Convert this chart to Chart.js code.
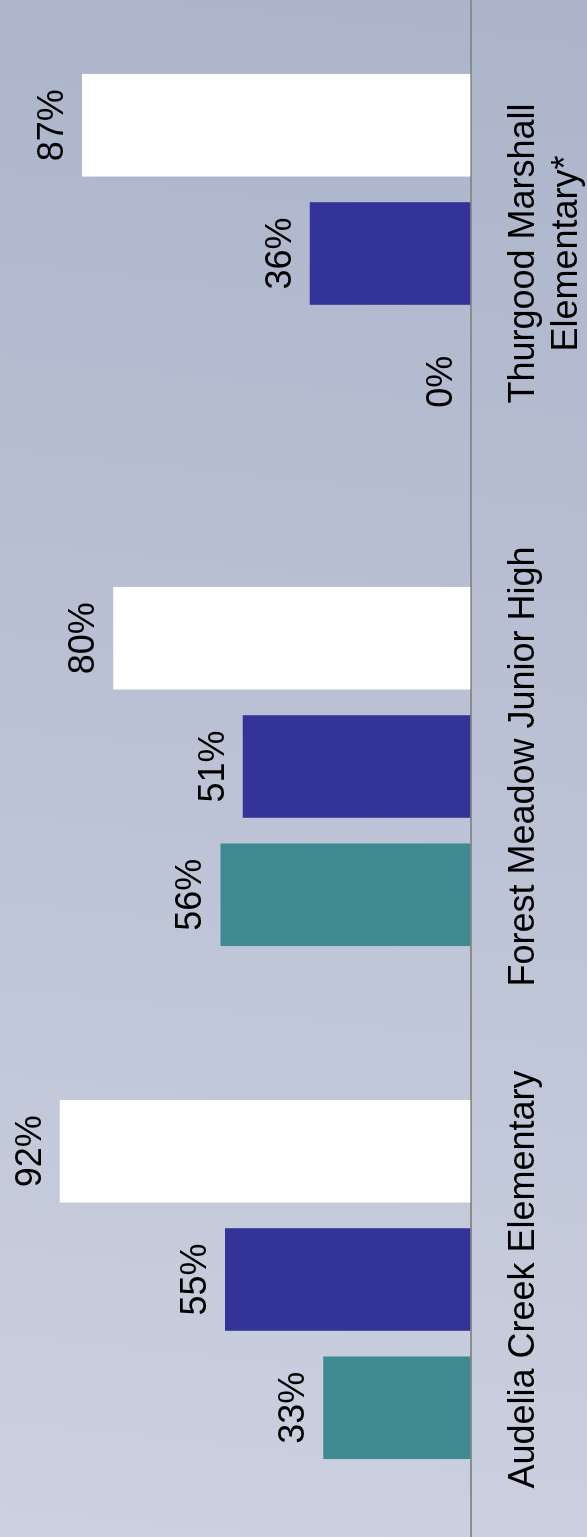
<!DOCTYPE html>
<html>
<head>
<meta charset="utf-8">
<script src="https://cdn.jsdelivr.net/npm/chart.js@4"></script>
<style>
  html, body { margin: 0; padding: 0; }
  body { width: 587px; height: 1537px; overflow: hidden; }
  #wrap {
    position: absolute; left: 0; top: 0; width: 587px; height: 1537px; overflow: hidden;
    background: linear-gradient(6deg, #cbd1df 0%, #bbc2d5 50%, #acb4ca 100%);
  }
  #rot {
    position: absolute; left: 0; top: 0; width: 1540px; height: 587px;
    transform-origin: 0 0;
    transform: translateY(1537px) rotate(-90deg);
  }
</style>
</head>
<body>
<div id="wrap">
  <div id="rot"><canvas id="c" width="1540" height="587"></canvas></div>
</div>
<script>
const categories = ["Audelia Creek Elementary", "Forest Meadow Junior High", ["Thurgood Marshall", "Elementary*"]];
const seriesNames = ["Series 1", "Series 2", "Series 3"];
const series1 = [33, 56, 0];
const series2 = [55, 51, 36];
const series3 = [92, 80, 87];
const seriesColors = ["#3d8a91", "#343397", "#ffffff"];

const FONT = "'Liberation Sans', Arial, sans-serif";

const valueLabels = {
  id: 'valueLabels',
  afterDatasetsDraw(chart) {
    const ctx = chart.ctx;
    ctx.save();
    ctx.font = "36px " + FONT;
    ctx.fillStyle = "#000";
    ctx.textAlign = "center";
    ctx.textBaseline = "alphabetic";
    chart.data.datasets.forEach((ds, i) => {
      const meta = chart.getDatasetMeta(i);
      meta.data.forEach((el, j) => {
        ctx.fillText(ds.data[j] + "%", el.x, el.y - 19);
      });
    });
    ctx.restore();
  }
};

new Chart(document.getElementById('c'), {
  type: 'bar',
  data: {
    labels: categories,
    datasets: [series1, series2, series3].map((d, i) => ({
      label: seriesNames[i],
      data: d,
      backgroundColor: seriesColors[i],
      borderWidth: 0,
      categoryPercentage: 0.75,
      barPercentage: 0.8
    }))
  },
  options: {
    responsive: false,
    animation: false,
    devicePixelRatio: 1,
    layout: { padding: { top: 24, left: 1, right: 0, bottom: 0 } },
    plugins: { legend: { display: false }, tooltip: { enabled: false } },
    scales: {
      x: {
        grid: { display: false, drawTicks: false },
        border: { display: true, color: '#8c8c8c', width: 2 },
        ticks: {
          color: '#000',
          font: { family: FONT, size: 36, lineHeight: 1.2 },
          padding: 32,
          maxRotation: 0,
          autoSkip: false
        },
        afterFit(scale) { scale.height = 116.5; }
      },
      y: { display: false, min: 0, max: 100 }
    }
  },
  plugins: [valueLabels]
});
</script>
</body>
</html>
